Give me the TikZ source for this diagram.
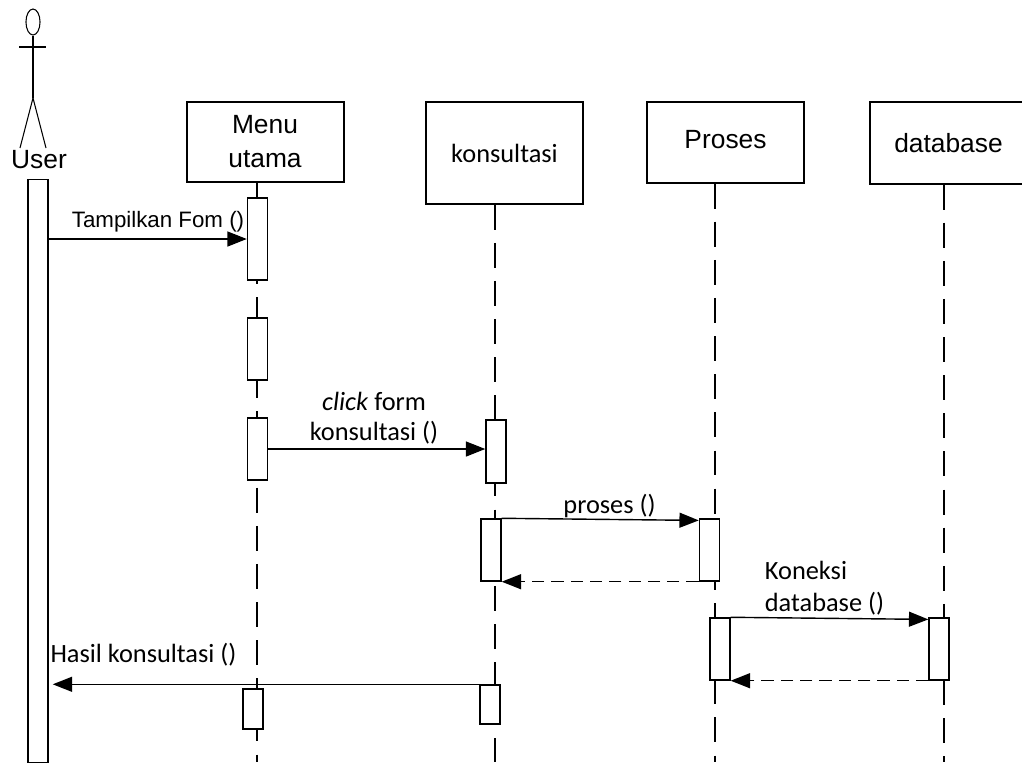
\documentclass[tikz,border=0pt]{standalone}
\usepackage{fontspec}
\setmainfont{Liberation Sans}
\newfontfamily\msgfont{Carlito}
\usetikzlibrary{arrows.meta,shapes.geometric}
\tikzset{
  headbox/.style={draw,line width=0.8pt,fill=white,minimum width=89.5pt,align=center,font=\fontsize{15}{19.5}\selectfont},
  bar/.style={draw,line width=0.8pt,fill=white,minimum width=11.4pt,inner sep=0pt},
  life/.style={line width=0.7pt,dash pattern=on 14.2pt off 7.5pt},
  msg/.style={line width=0.8pt,-{Triangle[length=11pt,width=8.5pt]}},
  reply/.style={msg,dash pattern=on 7pt off 4pt},
  msgtext/.style={align=center,font=\msgfont\fontsize{15}{17}\selectfont,inner sep=0pt}
}
\begin{document}
\begin{tikzpicture}[x=0.02cm,y=-0.02cm]
\useasboundingbox (0,0) rectangle (1022,762);

% actor
\node[draw,ellipse,line width=0.6pt,minimum width=8pt,minimum height=14.8pt,inner sep=0pt] (head) at (33,22) {};
\coordinate (hip) at (33,98);
\coordinate (lefthand) at (19,47);
\coordinate (righthand) at (46,47);
\coordinate (leftfoot) at (20,148);
\coordinate (rightfoot) at (46,148);
\path[draw,line width=0.6pt,-] (head) -- (hip);
\path[draw,line width=0.6pt,-] (lefthand) -- (righthand);
\path[draw,line width=0.6pt,-] (hip) -- (leftfoot);
\path[draw,line width=0.6pt,-] (hip) -- (rightfoot);
\node[inner sep=0pt,font=\fontsize{15}{17.5}\selectfont] (user) at (39,160) {User};

% heads of the lifelines
\node[headbox,minimum height=45.5pt] (menu) at (265.5,142) {};
\node[inner sep=0pt,align=center,font=\fontsize{15}{19.5}\selectfont] (menutext) at (265,141.5) {Menu\\utama};
\node[headbox,minimum height=58pt,font=\msgfont\fontsize{15}{17.5}\selectfont] (konsultasi) at (504.5,153) {konsultasi};
\node[headbox,minimum height=46pt] (proses) at (725.5,142.5) {};
\node[inner sep=0pt,font=\fontsize{15}{19.5}\selectfont] (prosestext) at (725.5,140) {Proses};
\node[headbox,minimum height=46.5pt] (database) at (948.5,143) {database};

\coordinate (menuend) at (257,762);
\coordinate (konsultasiend) at (495,762);
\coordinate (prosesend) at (715,762);
\coordinate (databaseend) at (944,762);
\path[draw,life] (menu.south -| menuend) -- (menuend);
\path[draw,life] (konsultasi.south -| konsultasiend) -- (konsultasiend);
\path[draw,life] (proses.south -| prosesend) -- (prosesend);
\path[draw,life] (database.south -| databaseend) -- (databaseend);

% activations
\node[bar,minimum height=331.5pt] (userbar) at (38,471) {};
\node[bar,minimum height=46.7pt] (menubara) at (257.5,239) {};
\node[bar,minimum height=35.3pt] (menubarb) at (257.5,349) {};
\node[bar,minimum height=35.3pt] (menubarc) at (257.5,449) {};
\node[bar,minimum height=22.8pt] (menubard) at (253,709) {};
\node[bar,minimum height=35.8pt] (konbara) at (496,451.5) {};
\node[bar,minimum height=35.3pt] (konbarb) at (491,550) {};
\node[bar,minimum height=22.2pt] (konbarc) at (490,704.5) {};
\node[bar,minimum height=35.3pt] (probara) at (709.5,550) {};
\node[bar,minimum height=35.3pt] (probarb) at (720,649) {};
\node[bar,minimum height=35.3pt] (dbbar) at (939,649) {};

% messages
\path[draw,msg] (userbar.east |- menubara.west) -- (menubara.west);
\node[msgtext,font=\fontsize{12.7}{15}\selectfont] (tampilkan) at (158,222) {Tampilkan Fom ()};
\path[draw,msg] (menubarc.east) -- (menubarc.east -| konbara.west);
\node[msgtext] (click) at (374,418) {\textit{click} form\\konsultasi ()};
\path[draw,msg] (konbarb.north east) -- ([yshift=-1.2pt]probara.north west);
\node[msgtext] (prosesmsg) at (609.5,506) {proses ()};
\path[draw,reply] (probara.south west) -- (konbarb.south east);
\path[draw,msg] (probarb.north east) -- ([yshift=-1.2pt]dbbar.north west);
\node[msgtext,align=left] (koneksi) at (824.5,588) {Koneksi\\[1.5pt]database ()};
\path[draw,reply] (dbbar.south west) -- (probarb.south east);
\path[draw,msg,shorten >=2.3pt] (konbarc.north west) -- (userbar.east |- konbarc.north west);
\node[msgtext] (hasil) at (143.5,655) {Hasil konsultasi ()};
\end{tikzpicture}
\end{document}
